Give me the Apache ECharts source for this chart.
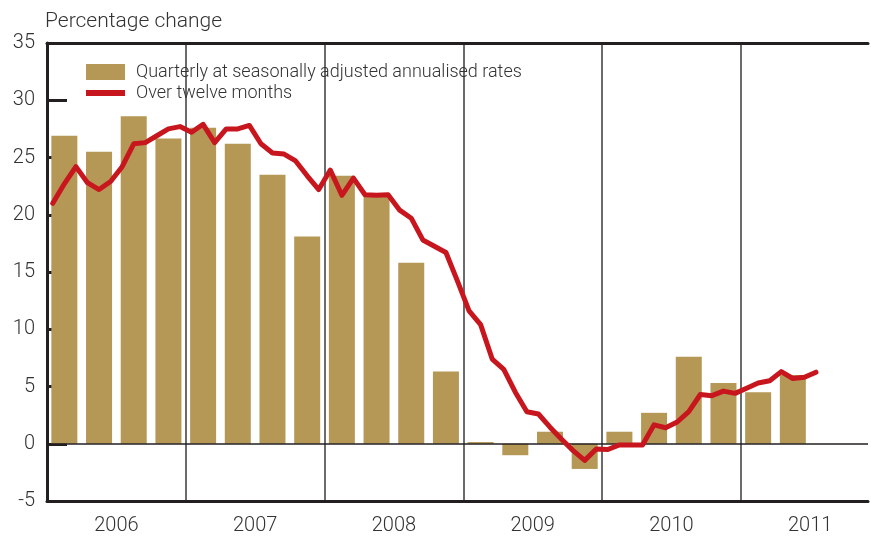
<!DOCTYPE html>
<html>
<head>
<meta charset="utf-8">
<script src="https://cdn.jsdelivr.net/npm/echarts@6/dist/echarts.min.js"></script>
<style>
html, body { margin: 0; padding: 0; background: #fff; }
#chart { width: 871px; height: 537px; }
</style>
</head>
<body>
<div id="chart"></div>
<script>
// year labels, first year of the axis
var years = ['2006', '2007', '2008', '2009', '2010', '2011'];
// quarterly at seasonally adjusted annualised rates, 2006 Q1 .. 2011 Q2
var quarterly = [26.9, 25.5, 28.6, 26.65, 27.6, 26.2, 23.5, 18.1, 23.4, 21.9, 15.8, 6.3,
	0.15, -1.0, 1.05, -2.2, 1.05, 2.7, 7.6, 5.3, 4.5, 6.0];
// over twelve months, monthly Jan 2006 .. Jul 2011
var twelveMonths = [21.0, 22.7, 24.2, 22.8, 22.2, 22.9, 24.2, 26.2, 26.3, 26.9, 27.5, 27.7,
	27.2, 27.9, 26.3, 27.5, 27.5, 27.8, 26.2, 25.4, 25.3, 24.7, 23.4, 22.2,
	23.9, 21.7, 23.2, 21.75, 21.7, 21.75, 20.4, 19.7, 17.8, 17.25, 16.7, 14.2,
	11.6, 10.4, 7.4, 6.5, 4.5, 2.8, 2.6, 1.45, 0.4, -0.6, -1.45, -0.45,
	-0.5, -0.1, -0.1, -0.1, 1.65, 1.4, 1.9, 2.8, 4.3, 4.2, 4.6, 4.4,
	4.85, 5.3, 5.5, 6.3, 5.7, 5.8, 6.25];
var yTicks = { min: -5, max: 35, step: 5 };

var font = 'Roboto, "Liberation Sans", sans-serif';
var ink = '#231f20';
var xMax = 71; // months shown on the axis

// x in months from Jan 2006; bar at the middle of its quarter, line at mid month
var barData = quarterly.map(function (v, q) { return [q * 3 + 1.5, v]; });
var lineData = twelveMonths.map(function (v, m) { return [m + 0.5, v]; });

var chart = echarts.init(document.getElementById('chart'));
chart.setOption({
	animation: false,
	textStyle: { fontFamily: font },
	title: {
		text: 'Percentage change',
		left: 40,
		top: 6,
		textStyle: { fontFamily: font, fontSize: 21, fontWeight: 300, color: '#333' }
	},
	legend: {
		left: 81,
		top: 58,
		orient: 'vertical',
		itemWidth: 39,
		itemHeight: 16,
		itemGap: 3,
		textStyle: { fontFamily: font, fontSize: 18, fontWeight: 300, color: '#333', padding: [0, 0, 0, 6] },
		data: [
			{ name: 'Quarterly at seasonally adjusted annualised rates', icon: 'rect' },
			// thin bar inside a 39x16 box, so the swatch is a plain line
			{ name: 'Over twelve months', icon: 'path://M0,0 M39,16 M0,5 L39,5 L39,11 L0,11 Z' }
		]
	},
	grid: { left: 47, right: 0, top: 43, bottom: 36 },
	xAxis: [{
		type: 'value',
		min: 0,
		max: xMax,
		interval: 12,
		position: 'bottom',
		axisLine: { show: true, onZero: false, lineStyle: { color: ink, width: 3 } },
		axisTick: { show: false },
		axisLabel: { show: false },
		splitLine: { show: true, showMinLine: false, showMaxLine: false, lineStyle: { color: '#3a3a3a', width: 1.5 } }
	}, {
		type: 'value',
		min: 0,
		max: xMax,
		interval: 6,
		position: 'bottom',
		axisLine: { show: false },
		axisTick: { show: false },
		splitLine: { show: false },
		axisLabel: {
			margin: 15,
			fontFamily: font,
			fontSize: 20,
			fontWeight: 300,
			color: '#333',
			formatter: function (v) {
				if (v % 12 === 6) return years[(v - 6) / 12];
				return '';
			}
		}
	}, {
		type: 'value',
		min: 0,
		max: xMax,
		position: 'top',
		axisLine: { show: true, onZero: false, lineStyle: { color: ink, width: 3 } },
		axisTick: { show: false },
		axisLabel: { show: false },
		splitLine: { show: false }
	}],
	yAxis: {
		type: 'value',
		min: yTicks.min,
		max: yTicks.max,
		interval: yTicks.step,
		axisLine: { show: true, lineStyle: { color: ink, width: 3 } },
		axisTick: { show: true, inside: true, length: 20, lineStyle: { color: ink, width: 3 } },
		axisLabel: { margin: 12, fontFamily: font, fontSize: 20, fontWeight: 300, color: '#333' },
		splitLine: { show: false }
	},
	series: [{
		name: 'Quarterly at seasonally adjusted annualised rates',
		type: 'bar',
		xAxisIndex: 0,
		barWidth: 26,
		itemStyle: { color: '#b59855' },
		data: barData,
		markLine: {
			silent: true,
			symbol: 'none',
			label: { show: false },
			lineStyle: { color: ink, width: 1.5, type: 'solid' },
			data: [{ yAxis: 0 }]
		}
	}, {
		name: 'Over twelve months',
		type: 'line',
		xAxisIndex: 0,
		symbol: 'none',
		z: 5,
		lineStyle: { color: '#c8161e', width: 5, join: 'round', cap: 'round' },
		itemStyle: { color: '#c8161e' },
		data: lineData
	}]
});
</script>
</body>
</html>
